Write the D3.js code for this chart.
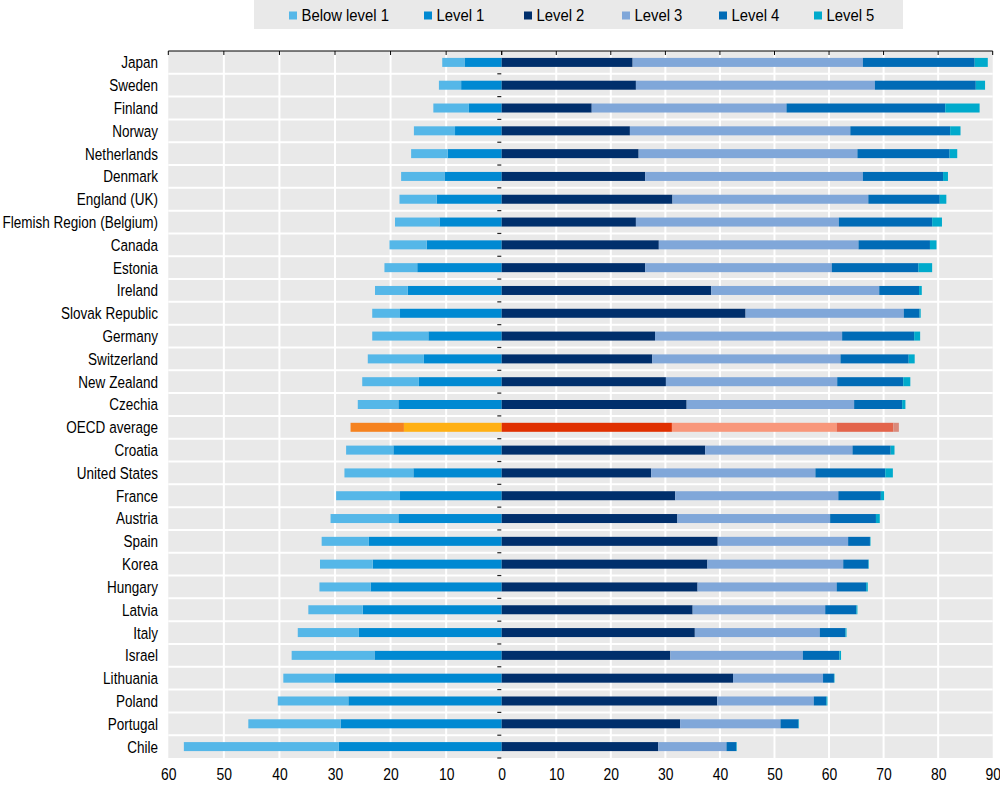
<!DOCTYPE html>
<html>
<head>
<meta charset="utf-8">
<script src="https://cdn.jsdelivr.net/npm/d3@7"></script>
<style>
  body { margin: 0; background: #fff; }
  svg text { font-family: "Liberation Sans", Arial, sans-serif; fill: #000; }
</style>
</head>
<body>
<svg id="chart" width="1000" height="785"></svg>
<script>
const countries = ["Japan", "Sweden", "Finland", "Norway", "Netherlands", "Denmark",
  "England (UK)", "Flemish Region (Belgium)", "Canada", "Estonia", "Ireland",
  "Slovak Republic", "Germany", "Switzerland", "New Zealand", "Czechia",
  "OECD average", "Croatia", "United States", "France", "Austria", "Spain",
  "Korea", "Hungary", "Latvia", "Italy", "Israel", "Lithuania", "Poland",
  "Portugal", "Chile"];

const belowLevel1 = [4.0, 4.0, 6.4, 7.4, 6.6, 7.8, 6.7, 8.0, 6.7, 5.9, 5.9, 5.0, 10.1, 10.1, 10.2, 7.3,
  9.6, 8.5, 12.4, 11.5, 12.2, 8.5, 9.5, 9.2, 9.8, 11.0, 14.9, 9.2, 12.7, 16.6, 27.9];
const level1 = [6.7, 7.3, 5.9, 8.4, 9.7, 10.3, 11.7, 11.2, 13.5, 15.2, 16.9, 18.3, 13.2, 14.0, 14.9, 18.6,
  17.6, 19.5, 15.9, 18.3, 18.6, 23.9, 23.2, 23.6, 25.0, 25.7, 22.9, 30.1, 27.6, 29.0, 29.3];
const level2 = [24.0, 24.6, 16.5, 23.5, 25.1, 26.3, 31.3, 24.6, 28.8, 26.3, 38.4, 44.7, 28.1, 27.6, 30.1, 33.9,
  31.2, 37.3, 27.4, 31.8, 32.2, 39.6, 37.7, 35.9, 35.0, 35.4, 30.9, 42.4, 39.5, 32.7, 28.7];
const level3 = [42.2, 43.8, 35.7, 40.4, 40.1, 39.9, 35.9, 37.2, 36.6, 34.2, 30.8, 29.0, 34.3, 34.5, 31.4, 30.7,
  30.2, 27.0, 30.1, 29.9, 28.0, 23.9, 24.9, 25.5, 24.3, 22.9, 24.3, 16.5, 17.7, 18.4, 12.5];
const level4 = [20.5, 18.5, 29.1, 18.3, 16.9, 14.7, 13.1, 17.1, 13.1, 15.9, 7.3, 2.9, 13.2, 12.5, 12.1, 8.8,
  10.4, 7.0, 12.8, 7.8, 8.4, 4.0, 4.6, 5.4, 5.7, 4.7, 6.7, 2.0, 2.3, 3.3, 1.8];
const level5 = [2.4, 1.7, 6.3, 1.9, 1.4, 0.9, 1.2, 1.8, 1.2, 2.5, 0.5, 0.2, 1.1, 1.1, 1.3, 0.6,
  1.0, 0.7, 1.4, 0.6, 0.7, 0.1, 0.1, 0.3, 0.2, 0.2, 0.3, 0.1, 0.2, 0.1, 0.1];

const seriesNames = ["Below level 1", "Level 1", "Level 2", "Level 3", "Level 4", "Level 5"];
const colors = ["#55b7e8", "#0089d2", "#002f6c", "#80a7d9", "#006bb6", "#00aacc"];
const oecdColors = ["#f5821f", "#ffb014", "#e03000", "#f8977b", "#e3644b", "#da8a7b"];
const leftTicks = [60, 50, 40, 30, 20, 10, 0];
const rightTicks = [0, 10, 20, 30, 40, 50, 60, 70, 80, 90];

const svg = d3.select("#chart");
const plotTop = 51, plotBottom = 758;
// the original uses a condensed face; squeeze the regular one horizontally
const narrow = "scale(0.82,1)";

const xl = d3.scaleLinear().domain([-60, 0]).range([168.3, 501.7]);
const xr = d3.scaleLinear().domain([0, 90]).range([501.7, 992.7]);
const y = d3.scaleBand().domain(countries).range([plotTop, plotBottom]);
const barH = 9;

// plot background
svg.append("rect")
  .attr("x", xl.range()[0]).attr("y", plotTop)
  .attr("width", xr.range()[1] - xl.range()[0]).attr("height", plotBottom - plotTop)
  .attr("fill", "#e9e9e9");

// vertical gridlines
const grid = svg.append("g").attr("stroke", "#fff").attr("stroke-width", 2);
grid.selectAll("line.gl")
  .data(leftTicks.filter(d => d !== 60 && d !== 0))
  .join("line")
  .attr("x1", d => xl(-d)).attr("x2", d => xl(-d))
  .attr("y1", plotTop).attr("y2", plotBottom);
grid.selectAll("line.gr")
  .data(rightTicks.filter(d => d !== 0 && d !== 90))
  .join("line")
  .attr("x1", d => xr(d)).attr("x2", d => xr(d))
  .attr("y1", plotTop).attr("y2", plotBottom);
// row separators
grid.selectAll("line.row")
  .data(countries.slice(1))
  .join("line")
  .attr("x1", xl.range()[0]).attr("x2", xr.range()[1])
  .attr("y1", d => y(d)).attr("y2", d => y(d));

// stacked bars
const rows = countries.map((c, i) => {
  const left = [[-level1[i], 0, 1], [-(level1[i] + belowLevel1[i]), -level1[i], 0]];
  const r = [level2[i], level3[i], level4[i], level5[i]];
  let acc = 0;
  const right = r.map((v, k) => { const s = [acc, acc + v, k + 2]; acc += v; return s; });
  return { country: c, left, right };
});

const bars = svg.append("g");
rows.forEach(row => {
  const pal = row.country === "OECD average" ? oecdColors : colors;
  const yc = y(row.country) + y.bandwidth() / 2 - barH / 2;
  bars.selectAll(null).data(row.left).enter().append("rect")
    .attr("x", d => xl(d[0])).attr("width", d => xl(d[1]) - xl(d[0]))
    .attr("y", yc).attr("height", barH)
    .attr("fill", d => pal[d[2]]);
  bars.selectAll(null).data(row.right).enter().append("rect")
    .attr("x", d => xr(d[0])).attr("width", d => xr(d[1]) - xr(d[0]))
    .attr("y", yc).attr("height", barH)
    .attr("fill", d => pal[d[2]]);
});

// small dashes at zero on row boundaries
svg.append("g").selectAll("line")
  .data(countries.slice(1).map(c => y(c)).concat([plotBottom]))
  .join("line")
  .attr("x1", 497.3).attr("x2", 501.3)
  .attr("y1", d => d).attr("y2", d => d)
  .attr("stroke", "#222").attr("stroke-width", 1.2);

// top axis line with ticks pointing down
const topAxis = svg.append("g").attr("stroke", "#000");
topAxis.append("line")
  .attr("x1", xl.range()[0]).attr("x2", xr.range()[1])
  .attr("y1", plotTop).attr("y2", plotTop).attr("stroke-width", 1);
topAxis.selectAll("line.tl").data(leftTicks).join("line")
  .attr("x1", d => xl(-d)).attr("x2", d => xl(-d))
  .attr("y1", plotTop).attr("y2", plotTop + 4);
topAxis.selectAll("line.tr").data(rightTicks).join("line")
  .attr("x1", d => xr(d)).attr("x2", d => xr(d))
  .attr("y1", plotTop).attr("y2", plotTop + 4);

// bottom tick labels
const axL = d3.axisBottom(xl).tickValues(leftTicks.map(d => -d)).tickFormat(d => Math.abs(d)).tickSize(0).tickPadding(0);
const axR = d3.axisBottom(xr).tickValues(rightTicks.filter(d => d !== 0)).tickSize(0).tickPadding(0);
[axL, axR].forEach(ax => {
  const g = svg.append("g").attr("transform", `translate(0,${plotBottom + 10})`).call(ax);
  g.select(".domain").remove();
  g.selectAll("text")
    .attr("font-size", 17).attr("font-family", null).attr("fill", "#000")
    .attr("transform", narrow);
});

// country labels
svg.append("g").selectAll("g")
  .data(countries)
  .join("g")
  .attr("transform", d => `translate(158,${y(d) + y.bandwidth() / 2})`)
  .append("text")
  .attr("transform", narrow)
  .attr("dy", "0.36em")
  .attr("text-anchor", "end")
  .attr("font-size", 16.5)
  .text(d => d);

// legend
const legend = svg.append("g");
legend.append("rect").attr("x", 254).attr("y", 0).attr("width", 649).attr("height", 29).attr("fill", "#e9e9e9");
const legendX = [289, 424, 524, 622, 719, 814];
seriesNames.forEach((name, i) => {
  legend.append("rect").attr("x", legendX[i]).attr("y", 11.5).attr("width", 8).attr("height", 8).attr("fill", colors[i]);
  legend.append("g").attr("transform", `translate(${legendX[i] + 12.5},21)`)
    .append("text").attr("transform", "scale(0.9,1)").attr("font-size", 16.5).text(name);
});
</script>
</body>
</html>
